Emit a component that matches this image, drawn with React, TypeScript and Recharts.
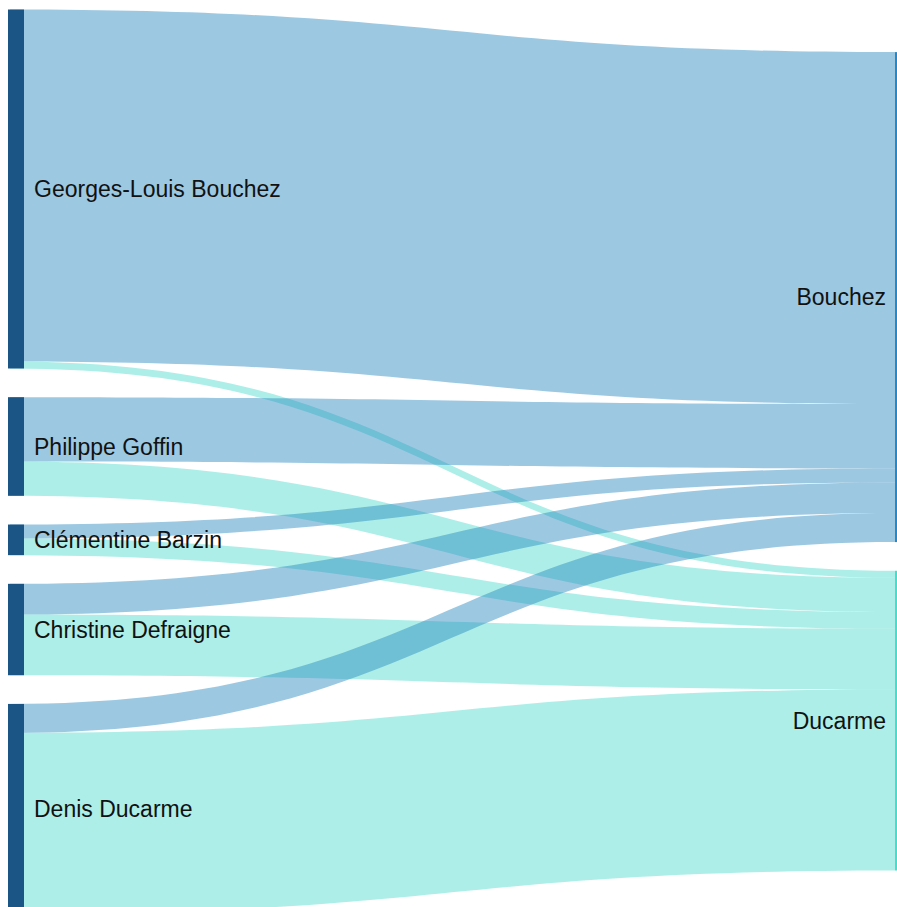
import { Sankey } from "recharts";

// first-round candidates (left) and second-round finalists (right)
const SOURCES = [
  "Georges-Louis Bouchez",
  "Philippe Goffin",
  "Clémentine Barzin",
  "Christine Defraigne",
  "Denis Ducarme",
];
const TARGETS = ["Bouchez", "Ducarme"];

// share of the votes (%) going from each candidate to each finalist
const TO_BOUCHEZ = [44.6, 8.16, 1.77, 3.89, 3.67];
const TO_DUCARME = [0.89, 4.34, 2.11, 7.69, 22.95];

const TARGET_COLORS: Record<string, { node: string; link: string; opacity: number }> = {
  Bouchez: { node: "#2389cf", link: "#2385bf", opacity: 0.45 },
  Ducarme: { node: "#40e0d0", link: "#32d4c6", opacity: 0.4 },
};

const SOURCE_COLOR = "#1a5585";
const FONT = '"Liberation Sans", Arial, sans-serif';
const LEFT_NODE_WIDTH = 16;

const nodes = [...SOURCES, ...TARGETS].map((name) => ({ name }));
const links = SOURCES.flatMap((_, i) => [
  { source: i, target: SOURCES.length, value: TO_BOUCHEZ[i] },
  { source: i, target: SOURCES.length + 1, value: TO_DUCARME[i] },
]);

function Ribbon(props: any) {
  const { sourceX, targetX, sourceY, targetY, sourceControlX, targetControlX, linkWidth, payload } = props;
  const c = TARGET_COLORS[payload.target.name];
  const h = linkWidth / 2;
  const d =
    `M${sourceX},${sourceY - h}` +
    `C${sourceControlX},${sourceY - h} ${targetControlX},${targetY - h} ${targetX},${targetY - h}` +
    `L${targetX},${targetY + h}` +
    `C${targetControlX},${targetY + h} ${sourceControlX},${sourceY + h} ${sourceX},${sourceY + h}Z`;
  return <path d={d} fill={c.link} fillOpacity={c.opacity} stroke="none" />;
}

function NodeBar(props: any) {
  const { x, y, width, height, index, payload } = props;
  const isSource = index < SOURCES.length;
  if (isSource) {
    return (
      <g>
        <rect x={x} y={y} width={LEFT_NODE_WIDTH} height={height} fill={SOURCE_COLOR} />
        <text
          x={x + LEFT_NODE_WIDTH + 10}
          y={y + height / 2}
          textAnchor="start"
          dominantBaseline="central"
          fontFamily={FONT}
          fontSize={23}
          fill="#111"
        >
          {payload.name}
        </text>
      </g>
    );
  }
  return (
    <g>
      <rect x={x} y={y} width={width} height={height} fill={TARGET_COLORS[payload.name].node} />
      <text
        x={x - 9}
        y={y + height / 2}
        textAnchor="end"
        dominantBaseline="central"
        fontFamily={FONT}
        fontSize={23}
        fill="#111"
      >
        {payload.name}
      </text>
    </g>
  );
}

export default function App() {
  return (
    <div style={{ position: "absolute", left: 8, top: 8, width: 889, height: 899, overflow: "hidden" }}>
      <Sankey
        width={889}
        height={906}
        data={{ nodes, links }}
        nodeWidth={2}
        nodePadding={28.7}
        margin={{ top: 1.5, right: 0, bottom: 0, left: 0 }}
        sort={false}
        link={<Ribbon />}
        node={<NodeBar />}
      />
    </div>
  );
}
